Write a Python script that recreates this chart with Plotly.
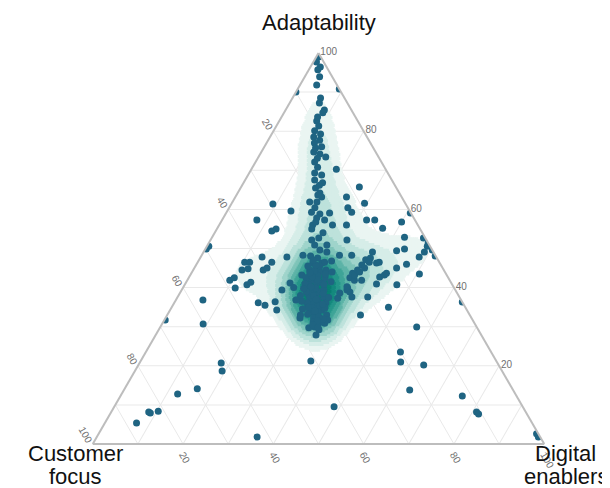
import numpy as np
import plotly.graph_objects as go

# ---- data (percent) ----
adaptability = [
    99.0, 97.7, 96.4, 95.7, 93.9, 91.8, 90.0, 90.8, 88.5, 87.2, 85.4, 84.7, 82.6, 81.3, 80.1, 79.3,
    78.5, 77.7, 77.0, 76.0, 74.7, 74.2, 73.4, 72.1, 70.8, 70.3, 69.3, 68.8, 67.5, 66.8, 65.5, 64.2,
    63.2, 61.9, 61.9, 60.4, 59.3, 58.8, 59.1, 57.8, 57.3, 56.0, 55.0, 54.0, 52.2, 50.9, 49.6, 49.1,
    83.6, 75.7, 73.1, 66.2, 63.7, 56.8, 52.7, 50.9,
    48.3, 46.3, 46.3, 44.5, 44.0, 43.2, 41.9, 41.2, 41.2, 39.4, 38.9, 36.3, 35.5, 34.3, 33.5, 32.2,
    33.0, 32.2, 30.9, 29.9, 41.2, 39.4, 47.8, 48.1, 47.6, 46.5, 45.5, 45.0, 44.5, 42.5, 43.0, 42.5,
    40.7, 39.9, 39.4, 38.4, 37.9, 37.6, 37.3, 36.8, 36.1, 34.8, 35.3, 33.8, 33.8, 34.8, 32.2, 31.2,
    30.4, 31.2, 31.7, 29.2, 27.9, 29.7, 34.3, 36.4, 35.5, 36.1, 32.0, 21.2, 9.5, 1.8,
    45.5, 44.2, 43.5, 42.0, 41.0, 40.2, 39.0, 38.0, 37.0, 36.0, 35.0, 34.0, 33.2, 32.5, 31.5, 30.5,
    29.8, 38.5, 40.8, 42.8, 43.8, 45.8, 47.0, 39.8, 36.5, 34.5, 35.8, 37.5, 33.0, 41.5, 44.0, 46.8,
    38.0, 36.8, 40.0,
    37.3, 38.6, 39.4, 38.9, 39.9, 37.6, 37.6, 40.2, 42.5, 41.9, 41.9, 43.7, 43.2, 44.5, 44.0, 45.8,
    45.0, 47.1, 47.6, 46.5, 49.1, 46.3, 46.5, 40.9, 42.7, 43.2, 43.7, 40.7, 45.0, 46.0, 49.4, 49.9,
    43.5, 50.6, 48.1, 49.6, 49.1, 47.8, 51.4, 52.7, 52.9, 56.8, 59.1, 55.2, 57.3, 57.3, 65.7, 63.2,
    61.6, 60.4, 59.3, 56.0, 56.0, 52.2, 48.3, 48.3, 36.3, 35.0, 33.0, 29.9, 23.5, 21.0, 20.2, 13.8,
    12.3, 8.2, 7.7, 2.6, 1.8,
    61.4, 59.6, 57.3, 54.5, 55.0, 49.9, 50.6, 47.8, 46.5, 46.5, 46.5, 44.5, 44.8, 44.5, 45.0, 41.9,
    42.5, 40.7, 41.4, 39.9, 36.8, 31.7, 30.7, 20.7, 18.7, 14.1, 12.8, 8.4, 7.9, 8.2, 5.4,
]
digital_enablers = [
    0.5, 0.7, 2.2, 2.0, 3.3, 3.7, 0.0, 9.2, 6.2, 6.6, 8.6, 8.6, 8.3, 9.4, 9.1, 10.8,
    9.7, 11.4, 10.6, 12.7, 11.6, 13.2, 14.9, 13.1, 14.4, 18.8, 14.5, 16.3, 15.4, 17.5, 16.6, 18.2,
    19.1, 18.7, 17.1, 19.0, 18.8, 20.9, 22.9, 20.7, 22.7, 20.7, 21.0, 24.0, 22.4, 26.4, 25.5, 27.3,
    8.0, 11.5, 13.2, 17.1, 18.0, 21.0, 23.7, 23.7,
    22.4, 25.6, 27.6, 25.8, 28.3, 24.7, 27.5, 29.0, 30.4, 29.1, 30.8, 30.4, 31.9, 33.6, 32.4, 34.2,
    35.3, 29.8, 35.9, 34.2, 23.1, 22.2, 19.1, 24.2, 26.0, 28.1, 24.9, 26.9, 29.4, 26.0, 28.4, 30.2,
    27.5, 29.4, 31.5, 28.5, 30.5, 32.4, 29.4, 31.4, 33.6, 31.3, 32.6, 33.0, 31.2, 34.0, 32.8, 35.1,
    34.6, 33.2, 36.2, 35.5, 35.5, 33.0, 23.6, 22.2, 20.4, 18.6, 35.0, 37.7, 48.7, 35.5,
    27.5, 27.0, 29.8, 28.8, 26.5, 28.2, 27.8, 29.9, 31.0, 29.5, 30.2, 32.2, 31.0, 33.8, 34.0, 33.5,
    35.0, 31.8, 30.8, 27.2, 26.2, 26.5, 25.3, 26.8, 28.0, 29.2, 33.0, 33.5, 29.5, 32.0, 31.0, 29.5,
    27.0, 26.6, 24.5,
    35.6, 35.4, 36.6, 37.5, 36.5, 38.6, 42.1, 36.2, 35.7, 37.0, 38.6, 35.7, 36.4, 36.4, 37.1, 36.7,
    37.7, 36.9, 37.7, 38.0, 37.4, 39.7, 40.2, 42.4, 42.2, 43.0, 43.2, 47.0, 44.8, 46.5, 42.6, 44.1,
    50.6, 48.8, 51.8, 50.4, 48.9, 48.4, 48.6, 46.9, 42.6, 40.0, 40.8, 36.6, 33.8, 32.0, 26.2, 24.6,
    29.4, 26.3, 27.7, 25.1, 28.2, 30.2, 30.5, 33.2, 63.7, 48.0, 42.8, 56.8, 56.4, 57.7, 63.2, 63.3,
    75.7, 80.9, 81.6, 97.0, 97.8,
    9.2, 14.1, 7.7, 12.4, 13.1, 0.2, 0.4, 13.6, 10.4, 11.5, 16.4, 10.8, 12.0, 15.5, 16.1, 9.4,
    10.1, 13.8, 14.3, 11.6, 6.0, 0.2, 9.1, 18.1, 19.3, 16.1, 12.4, 10.3, 8.8, 8.3, 7.0,
]

# tick labels (each edge labels the axis read along it)
left_tick_vals = [90, 80, 70, 60, 50, 40, 30, 20, 10, 0]          # plotly a-axis
left_tick_text = ["", "20", "", "40", "", "60", "", "80", "", "100"]  # Customer focus
right_tick_vals = [0, 10, 20, 30, 40, 50, 60, 70, 80, 90]         # plotly c-axis
right_tick_text = ["100", "", "80", "", "60", "", "40", "", "20", ""]  # Adaptability
bottom_tick_vals = [90, 80, 70, 60, 50, 40, 30, 20, 10, 0]        # plotly b-axis
bottom_tick_text = ["", "20", "", "40", "", "60", "", "80", "", "100"]  # Digital enablers

density_colors = ["#eaf5f2", "#d6ede8", "#bde2db", "#9fd4cb", "#7fc4b9",
                  "#5cb3a7", "#3ea497", "#25968a", "#14897e", "#0a7d73"]

# ---- 2D kernel density of the points, evaluated on a ternary lattice ----
A = np.array(adaptability)
C = np.array(digital_enablers)
px_ = C + A / 2.0
py_ = A * np.sqrt(3) / 2.0

step = 0.5
ga, gc = [], []
for av in np.arange(0, 100 + step / 2, step):
    for cv in np.arange(0, 100 - av + step / 2, step):
        ga.append(av)
        gc.append(cv)
ga = np.array(ga)
gc = np.array(gc)
gx = gc + ga / 2.0
gy = ga * np.sqrt(3) / 2.0
sigma = 4.3
dens = np.zeros_like(gx)
for x0, y0 in zip(px_, py_):
    dens += np.exp(-((gx - x0) ** 2 + (gy - y0) ** 2) / (2 * sigma ** 2))
dens /= dens.max()
levels = np.array([0.17, 0.24, 0.31, 0.39, 0.47, 0.55, 0.63, 0.71, 0.79, 0.87])
lev = np.searchsorted(levels, dens, side="right") - 1

fig = go.Figure()
for k in range(len(levels)):
    m = lev == k
    if not m.any():
        continue
    fig.add_trace(go.Scatterternary(
        a=ga[m], c=gc[m], mode="markers",
        marker=dict(symbol="square", size=3.2, color=density_colors[k], line=dict(width=0)),
        hoverinfo="skip", showlegend=False,
    ))

fig.add_trace(go.Scatterternary(
    a=adaptability, c=digital_enablers, mode="markers",
    marker=dict(size=7, color="#1f6482", line=dict(width=0)),
    showlegend=False,
))

axis_common = dict(
    tickmode="array", linecolor="#bdbdbd", linewidth=2, gridcolor="#e9e9e9",
    gridwidth=1, ticks="", tickfont=dict(family="Liberation Sans, Arial", size=10, color="#707070"),
    showline=True, showgrid=True, min=0, title=dict(text=""),
)
title_font = dict(family="Liberation Sans, Arial", size=22, color="#111111")

titles = [
    ("Adaptability", 0.5, 1.077),
    ("Customer", -0.0375, -0.024),
    ("focus", -0.0375, -0.082),
    ("Digital", 1.046, -0.024),
    ("enablers", 1.046, -0.082),
]

fig.update_layout(
    width=602, height=480,
    margin=dict(l=84, r=65, t=45, b=44),
    paper_bgcolor="white",
    showlegend=False,
    ternary=dict(
        sum=100, bgcolor="white",
        aaxis=dict(axis_common, tickvals=left_tick_vals, ticktext=left_tick_text, tickangle=60),
        baxis=dict(axis_common, tickvals=bottom_tick_vals, ticktext=bottom_tick_text, tickangle=60),
        caxis=dict(axis_common, tickvals=right_tick_vals, ticktext=right_tick_text, tickangle=0),
    ),
    annotations=[
        dict(text=t, x=x, y=y, xref="paper", yref="paper", xanchor="center", yanchor="middle",
             showarrow=False, font=title_font)
        for t, x, y in titles
    ],
)

fig.write_html("out.html")
